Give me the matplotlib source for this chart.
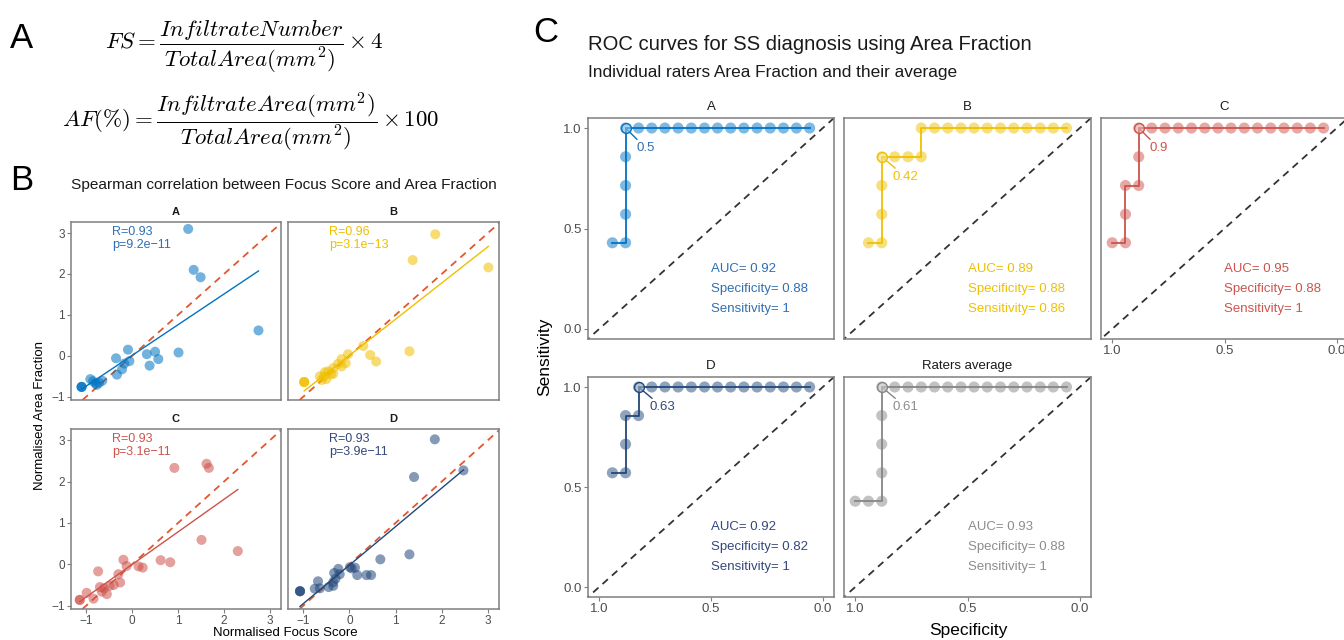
import numpy as np
import matplotlib
matplotlib.use("Agg")
import matplotlib.pyplot as plt

plt.rcParams["font.family"] = ["Liberation Sans", "DejaVu Sans"]
plt.rcParams["mathtext.fontset"] = "cm"

W, H = 1344, 640

# ---- panel B data: normalised focus score vs normalised area fraction ----
fs_a = [1.22, 1.34, 1.49, 2.75, 1.01, 0.50, 0.57, 0.32, 0.38, -0.09, -0.06, -0.17,
        -0.22, -0.35, -0.33, -0.65, -0.91, -0.80, -0.77, -0.72, -1.10, -1.10, -1.10, -0.85]
af_a = [3.10, 2.10, 1.92, 0.62, 0.08, 0.10, -0.08, 0.04, -0.24, 0.15, -0.13, -0.19,
        -0.33, -0.06, -0.46, -0.61, -0.57, -0.67, -0.71, -0.66, -0.76, -0.76, -0.76, -0.62]
fs_b = [1.86, 1.37, 3.01, 1.30, 0.30, 0.45, 0.58, -0.03, -0.17, -0.08, -0.17, -0.35,
        -0.35, -0.46, -0.53, -0.55, -0.50, -0.60, -0.64, -0.98, -0.98, -0.98, -0.40, -0.25]
af_b = [2.97, 2.34, 2.16, 0.11, 0.24, 0.02, -0.14, 0.04, -0.08, -0.18, -0.26, -0.30,
        -0.44, -0.38, -0.40, -0.50, -0.57, -0.59, -0.50, -0.64, -0.64, -0.64, -0.45, -0.20]
fs_c = [0.92, 1.62, 1.67, 1.51, 2.30, 0.62, 0.83, 0.14, 0.23, -0.12, -0.19, -0.30,
        -0.26, -0.74, -0.70, -0.61, -0.49, -0.66, -0.55, -0.99, -0.84, -1.14, -1.14, -0.40]
af_c = [2.33, 2.43, 2.33, 0.59, 0.32, 0.10, 0.05, -0.05, -0.08, -0.04, 0.11, -0.24,
        -0.44, -0.17, -0.55, -0.58, -0.52, -0.66, -0.72, -0.69, -0.83, -0.86, -0.86, -0.50]
fs_d = [1.85, 1.40, 2.47, 0.67, 1.30, 0.01, 0.12, 0.17, 0.37, 0.47, -0.24, -0.21,
        -0.33, -0.35, -0.35, -0.68, -0.75, -0.64, -1.07, -1.07, -1.07, -0.30, -0.45, 0.05]
af_d = [3.02, 2.11, 2.27, 0.12, 0.24, -0.07, -0.08, -0.26, -0.26, -0.26, -0.11, -0.24,
        -0.21, -0.43, -0.52, -0.41, -0.59, -0.58, -0.65, -0.65, -0.65, -0.35, -0.55, -0.10]
r_labels = ["R=0.93\np=9.2e\u221211", "R=0.96\np=3.1e\u221213",
            "R=0.93\np=3.1e\u221211", "R=0.93\np=3.9e\u221211"]
raters = ["A", "B", "C", "D"]

# ---- panel C data: ROC curves ----
spec_a = [0.941, 0.882, 0.882, 0.882, 0.882, 0.882, 0.824, 0.765, 0.706, 0.647,
          0.588, 0.529, 0.471, 0.412, 0.353, 0.294, 0.235, 0.176, 0.118, 0.059]
sens_a = [0.429, 0.429, 0.571, 0.714, 0.857, 1, 1, 1, 1, 1,
          1, 1, 1, 1, 1, 1, 1, 1, 1, 1]
spec_b = [0.941, 0.882, 0.882, 0.882, 0.882, 0.824, 0.765, 0.706, 0.706, 0.647,
          0.588, 0.529, 0.471, 0.412, 0.353, 0.294, 0.235, 0.176, 0.118, 0.059]
sens_b = [0.429, 0.429, 0.571, 0.714, 0.857, 0.857, 0.857, 0.857, 1, 1,
          1, 1, 1, 1, 1, 1, 1, 1, 1, 1]
spec_c = [1.0, 0.941, 0.941, 0.941, 0.882, 0.882, 0.882, 0.824, 0.765, 0.706, 0.647,
          0.588, 0.529, 0.471, 0.412, 0.353, 0.294, 0.235, 0.176, 0.118, 0.059]
sens_c = [0.429, 0.429, 0.571, 0.714, 0.714, 0.857, 1, 1, 1, 1, 1,
          1, 1, 1, 1, 1, 1, 1, 1, 1, 1]
spec_d = [0.941, 0.882, 0.882, 0.882, 0.824, 0.824, 0.765, 0.706, 0.647,
          0.588, 0.529, 0.471, 0.412, 0.353, 0.294, 0.235, 0.176, 0.118, 0.059]
sens_d = [0.571, 0.571, 0.714, 0.857, 0.857, 1, 1, 1, 1,
          1, 1, 1, 1, 1, 1, 1, 1, 1, 1]
spec_avg = [1.0, 0.941, 0.882, 0.882, 0.882, 0.882, 0.882, 0.824, 0.765, 0.706, 0.647,
            0.588, 0.529, 0.471, 0.412, 0.353, 0.294, 0.235, 0.176, 0.118, 0.059]
sens_avg = [0.429, 0.429, 0.429, 0.571, 0.714, 0.857, 1, 1, 1, 1, 1,
            1, 1, 1, 1, 1, 1, 1, 1, 1, 1]
best_spec = [0.882, 0.882, 0.882, 0.824, 0.882]
best_sens = [1.0, 0.857, 1.0, 1.0, 1.0]
best_thr = ["0.5", "0.42", "0.9", "0.63", "0.61"]
auc = ["0.92", "0.89", "0.95", "0.92", "0.93"]
spec_txt = ["0.88", "0.88", "0.88", "0.82", "0.88"]
sens_txt = ["1", "0.86", "1", "1", "1"]
roc_titles = ["A", "B", "C", "D", "Raters average"]

cols = ["#0073C2", "#EFC000", "#CD534C", "#22487A", "#868686"]
txt_cols = ["#2f6fb3", "#EFC000", "#CD534C", "#34487C", "#8c8c8c"]
edge = "#7f7f7f"


def box(l, t, r, b):
    return [l / W, 1 - b / H, (r - l) / W, (b - t) / H]


def style(ax, show_x, show_y, size):
    for s in ax.spines.values():
        s.set_color(edge)
        s.set_linewidth(1.1)
    ax.tick_params(colors=edge, labelcolor="#4d4d4d", length=3, width=0.8,
                   pad=1.5, labelsize=size)
    if not show_x:
        ax.tick_params(axis="x", length=0, labelbottom=False)
    if not show_y:
        ax.tick_params(axis="y", length=0, labelleft=False)


fig = plt.figure(figsize=(W / 100, H / 100), dpi=100)

# ---- panel A: formulas ----
fig.text(10 / W, 1 - 38 / H, "A", fontsize=25, va="center", ha="left")
fig.text(105 / W, 1 - 47 / H,
         r"$FS = \dfrac{InfiltrateNumber}{TotalArea(mm^2)} \times 4$",
         fontsize=16.5, va="center", ha="left")
fig.text(62 / W, 1 - 122 / H,
         r"$AF(\%) = \dfrac{InfiltrateArea(mm^2)}{TotalArea(mm^2)} \times 100$",
         fontsize=16.5, va="center", ha="left")

# ---- panel B: correlations ----
fig.text(10 / W, 1 - 180 / H, "B", fontsize=25, va="center", ha="left")
fig.text(71 / W, 1 - 185 / H, "Spearman correlation between Focus Score and Area Fraction",
         fontsize=11.1, va="center", ha="left", color="#1a1a1a")
xs = [fs_a, fs_b, fs_c, fs_d]
ys = [af_a, af_b, af_c, af_d]
boxes_b = [(71, 222, 281, 400), (288, 222, 499, 400),
           (71, 429, 281, 609), (288, 429, 499, 609)]
for i in range(4):
    ax = fig.add_axes(box(*boxes_b[i]))
    x = np.array(xs[i])
    y = np.array(ys[i])
    c = cols[i]
    ax.axline((0, 0), (1, 1), color="#E4572E", ls=(0, (4, 3)), lw=1.3, zorder=1)
    k, b0 = np.polyfit(x, y, 1)
    xx = np.array([x.min(), x.max()])
    ax.plot(xx, k * xx + b0, color=c, lw=1.0, zorder=2)
    ax.scatter(x, y, s=52, color=c, alpha=0.55, edgecolors="none", zorder=3)
    ax.text(0.195, 0.975, r_labels[i], transform=ax.transAxes, color=txt_cols[i],
            fontsize=9, va="top", ha="left", linespacing=1.05)
    ax.set_xlim(-1.33, 3.24)
    ax.set_ylim(-1.08, 3.27)
    ax.set_xticks([-1, 0, 1, 2, 3])
    ax.set_yticks([-1, 0, 1, 2, 3])
    ax.set_title(raters[i], fontsize=8, fontweight="bold", pad=5, color="#1a1a1a")
    style(ax, i in (2, 3), i in (0, 2), 8.5)
fig.text(285 / W, 1 - 633 / H, "Normalised Focus Score", fontsize=9.5,
         ha="center", va="center")
fig.text(40 / W, 1 - 416 / H, "Normalised Area Fraction", fontsize=9.5,
         ha="center", va="center", rotation=90)

# ---- panel C: ROC curves ----
fig.text(533 / W, 1 - 32 / H, "C", fontsize=25, va="center", ha="left")
fig.text(588 / W, 1 - 45 / H, "ROC curves for SS diagnosis using Area Fraction",
         fontsize=14.6, va="center", ha="left", color="#1a1a1a")
fig.text(588 / W, 1 - 72 / H, "Individual raters Area Fraction and their average",
         fontsize=12.4, va="center", ha="left", color="#1a1a1a")
specs = [spec_a, spec_b, spec_c, spec_d, spec_avg]
senss = [sens_a, sens_b, sens_c, sens_d, sens_avg]
boxes_c = [(588, 118, 834, 339), (844, 118, 1091, 339), (1101, 118, 1348, 339),
           (588, 377, 834, 597), (844, 377, 1091, 597)]
for i in range(5):
    ax = fig.add_axes(box(*boxes_c[i]))
    c = cols[i]
    ax.axline((1, 0), (0, 1), color="#333333", ls=(0, (4, 3)), lw=1.3, zorder=1)
    ax.plot(specs[i], senss[i], color=c, lw=1.3, zorder=2)
    ax.scatter(specs[i], senss[i], s=64, color=c, alpha=0.5, edgecolors="none", zorder=3)
    ax.scatter([best_spec[i]], [best_sens[i]], s=50, facecolors=(1, 1, 1, 0.35),
               edgecolors=c, linewidths=1.0, zorder=4)
    ax.annotate(best_thr[i], xy=(best_spec[i], best_sens[i]), xytext=(8, -14.5),
                textcoords="offset points", color=txt_cols[i], fontsize=9.5,
                ha="left", va="center",
                arrowprops=dict(arrowstyle="-", color=c, lw=1.0, shrinkA=0, shrinkB=0))
    ax.text(0.5, 0.3, "AUC= " + auc[i], color=txt_cols[i], fontsize=9.5,
            ha="left", va="center")
    ax.text(0.5, 0.2, "Specificity= " + spec_txt[i], color=txt_cols[i], fontsize=9.5,
            ha="left", va="center")
    ax.text(0.5, 0.1, "Sensitivity= " + sens_txt[i], color=txt_cols[i], fontsize=9.5,
            ha="left", va="center")
    ax.set_xlim(1.05, -0.05)
    ax.set_ylim(-0.05, 1.05)
    ax.set_xticks([1.0, 0.5, 0.0])
    ax.set_yticks([0.0, 0.5, 1.0])
    ax.set_xticklabels(["1.0", "0.5", "0.0"])
    ax.set_yticklabels(["0.0", "0.5", "1.0"])
    ax.set_title(roc_titles[i], fontsize=9.5, pad=6, color="#1a1a1a")
    style(ax, i in (2, 3, 4), i in (0, 3), 9.5)
fig.text(545 / W, 1 - 357 / H, "Sensitivity", fontsize=12.5, ha="center",
         va="center", rotation=90)
fig.text(968 / W, 1 - 630 / H, "Specificity", fontsize=12.5, ha="center", va="center")

fig.savefig("out.png", dpi=100)
